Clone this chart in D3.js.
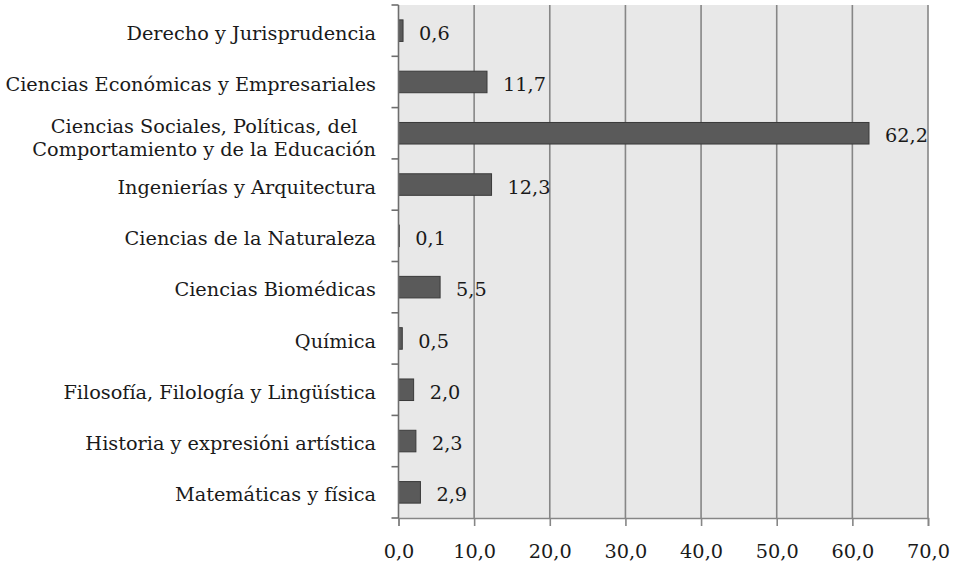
<!DOCTYPE html>
<html>
<head>
<meta charset="utf-8">
<script src="https://cdn.jsdelivr.net/npm/d3@7"></script>
<style>
  body { margin: 0; background: #fff; }
  text { font-family: "DejaVu Serif", serif; fill: #1a1a1a; }
</style>
</head>
<body>
<script>
var categories = [
  'Derecho y Jurisprudencia',
  'Ciencias Económicas y Empresariales',
  'Ciencias Sociales, Políticas, del|Comportamiento y de la Educación',
  'Ingenierías y Arquitectura',
  'Ciencias de la Naturaleza',
  'Ciencias Biomédicas',
  'Química',
  'Filosofía, Filología y Lingüística',
  'Historia y expresióni artística',
  'Matemáticas y física'
];
var values = [0.6, 11.7, 62.2, 12.3, 0.1, 5.5, 0.5, 2.0, 2.3, 2.9];
var xTicks = [0, 10, 20, 30, 40, 50, 60, 70];

var margin = { top: 5, right: 27, bottom: 47, left: 398.5 };
var width = 955 - margin.left - margin.right;
var height = 565 - margin.top - margin.bottom;
var fontSize = 19.3;

var svg = d3.select('body').append('svg')
  .attr('width', 955)
  .attr('height', 565);

var g = svg.append('g')
  .attr('transform', `translate(${margin.left}, ${margin.top})`);

var xScale = d3.scaleLinear().domain([0, 70]).range([0, width]);
var yScale = d3.scaleBand().domain(categories).range([0, height]).paddingInner(0.58).paddingOuter(0.29);

var fmt = function(v) { return d3.format('.1f')(v).replace('.', ','); };

// plot background
g.append('rect')
  .attr('width', width)
  .attr('height', height)
  .attr('fill', '#e8e8e8');

// vertical gridlines
g.append('g')
  .selectAll('line')
  .data(xTicks.slice(1))
  .enter().append('line')
  .attr('x1', function(d) { return xScale(d); })
  .attr('x2', function(d) { return xScale(d); })
  .attr('y1', 0)
  .attr('y2', height)
  .attr('stroke', '#868686')
  .attr('stroke-width', 1.6);

// bars
g.selectAll('.bar')
  .data(values)
  .enter().append('rect')
  .attr('class', 'bar')
  .attr('x', xScale(0))
  .attr('y', function(d, i) { return yScale(categories[i]); })
  .attr('width', function(d) { return xScale(d); })
  .attr('height', yScale.bandwidth())
  .attr('fill', '#5a5a5a')
  .attr('stroke', '#3a3a3a')
  .attr('stroke-width', 1);

// value labels
g.selectAll('.val')
  .data(values)
  .enter().append('text')
  .attr('class', 'val')
  .attr('x', function(d) { return xScale(d) + 16; })
  .attr('y', function(d, i) { return yScale(categories[i]) + yScale.bandwidth() / 2; })
  .attr('dy', '0.47em')
  .style('font-size', fontSize + 'px')
  .text(fmt);

// x axis
var xAxis = g.append('g')
  .attr('transform', `translate(0, ${height})`)
  .call(d3.axisBottom(xScale).tickValues(xTicks).tickSize(8).tickFormat(fmt));
xAxis.select('.domain').attr('stroke', '#868686').attr('stroke-width', 1.6);
xAxis.selectAll('.tick line').attr('stroke', '#868686').attr('stroke-width', 1.6);
xAxis.selectAll('.tick text')
  .attr('dy', null)
  .attr('y', 40)
  .style('font-size', fontSize + 'px')
  .style('font-family', '"DejaVu Serif", serif')
  .attr('fill', '#1a1a1a');

// y axis: line with ticks between categories
var yEdges = d3.range(categories.length + 1).map(function(i) { return i * height / categories.length; });
g.append('line')
  .attr('x1', 0).attr('x2', 0)
  .attr('y1', 0).attr('y2', height)
  .attr('stroke', '#6e6e6e')
  .attr('stroke-width', 1.6);
g.append('g')
  .selectAll('line')
  .data(yEdges)
  .enter().append('line')
  .attr('x1', -7).attr('x2', 0)
  .attr('y1', function(d) { return d; })
  .attr('y2', function(d) { return d; })
  .attr('stroke', '#6e6e6e')
  .attr('stroke-width', 1.6);

// category labels (right aligned; two-line label centred as a block)
var labelX = -22.5;
categories.forEach(function(c) {
  var cy = yScale(c) + yScale.bandwidth() / 2;
  var lines = c.split('|');
  if (lines.length === 1) {
    g.append('text')
      .attr('x', labelX)
      .attr('y', cy)
      .attr('dy', '0.47em')
      .attr('text-anchor', 'end')
      .style('font-size', fontSize + 'px')
      .text(c);
  } else {
    var l1 = g.append('text').style('font-size', fontSize + 'px').text(lines[0]);
    var l2 = g.append('text').style('font-size', fontSize + 'px').text(lines[1]);
    var w2 = l2.node().getComputedTextLength();
    var mid = labelX - w2 / 2;
    l1.attr('x', mid).attr('y', cy).attr('text-anchor', 'middle');
    l2.attr('x', mid).attr('y', cy + 23).attr('text-anchor', 'middle');
  }
});
</script>
</body>
</html>
